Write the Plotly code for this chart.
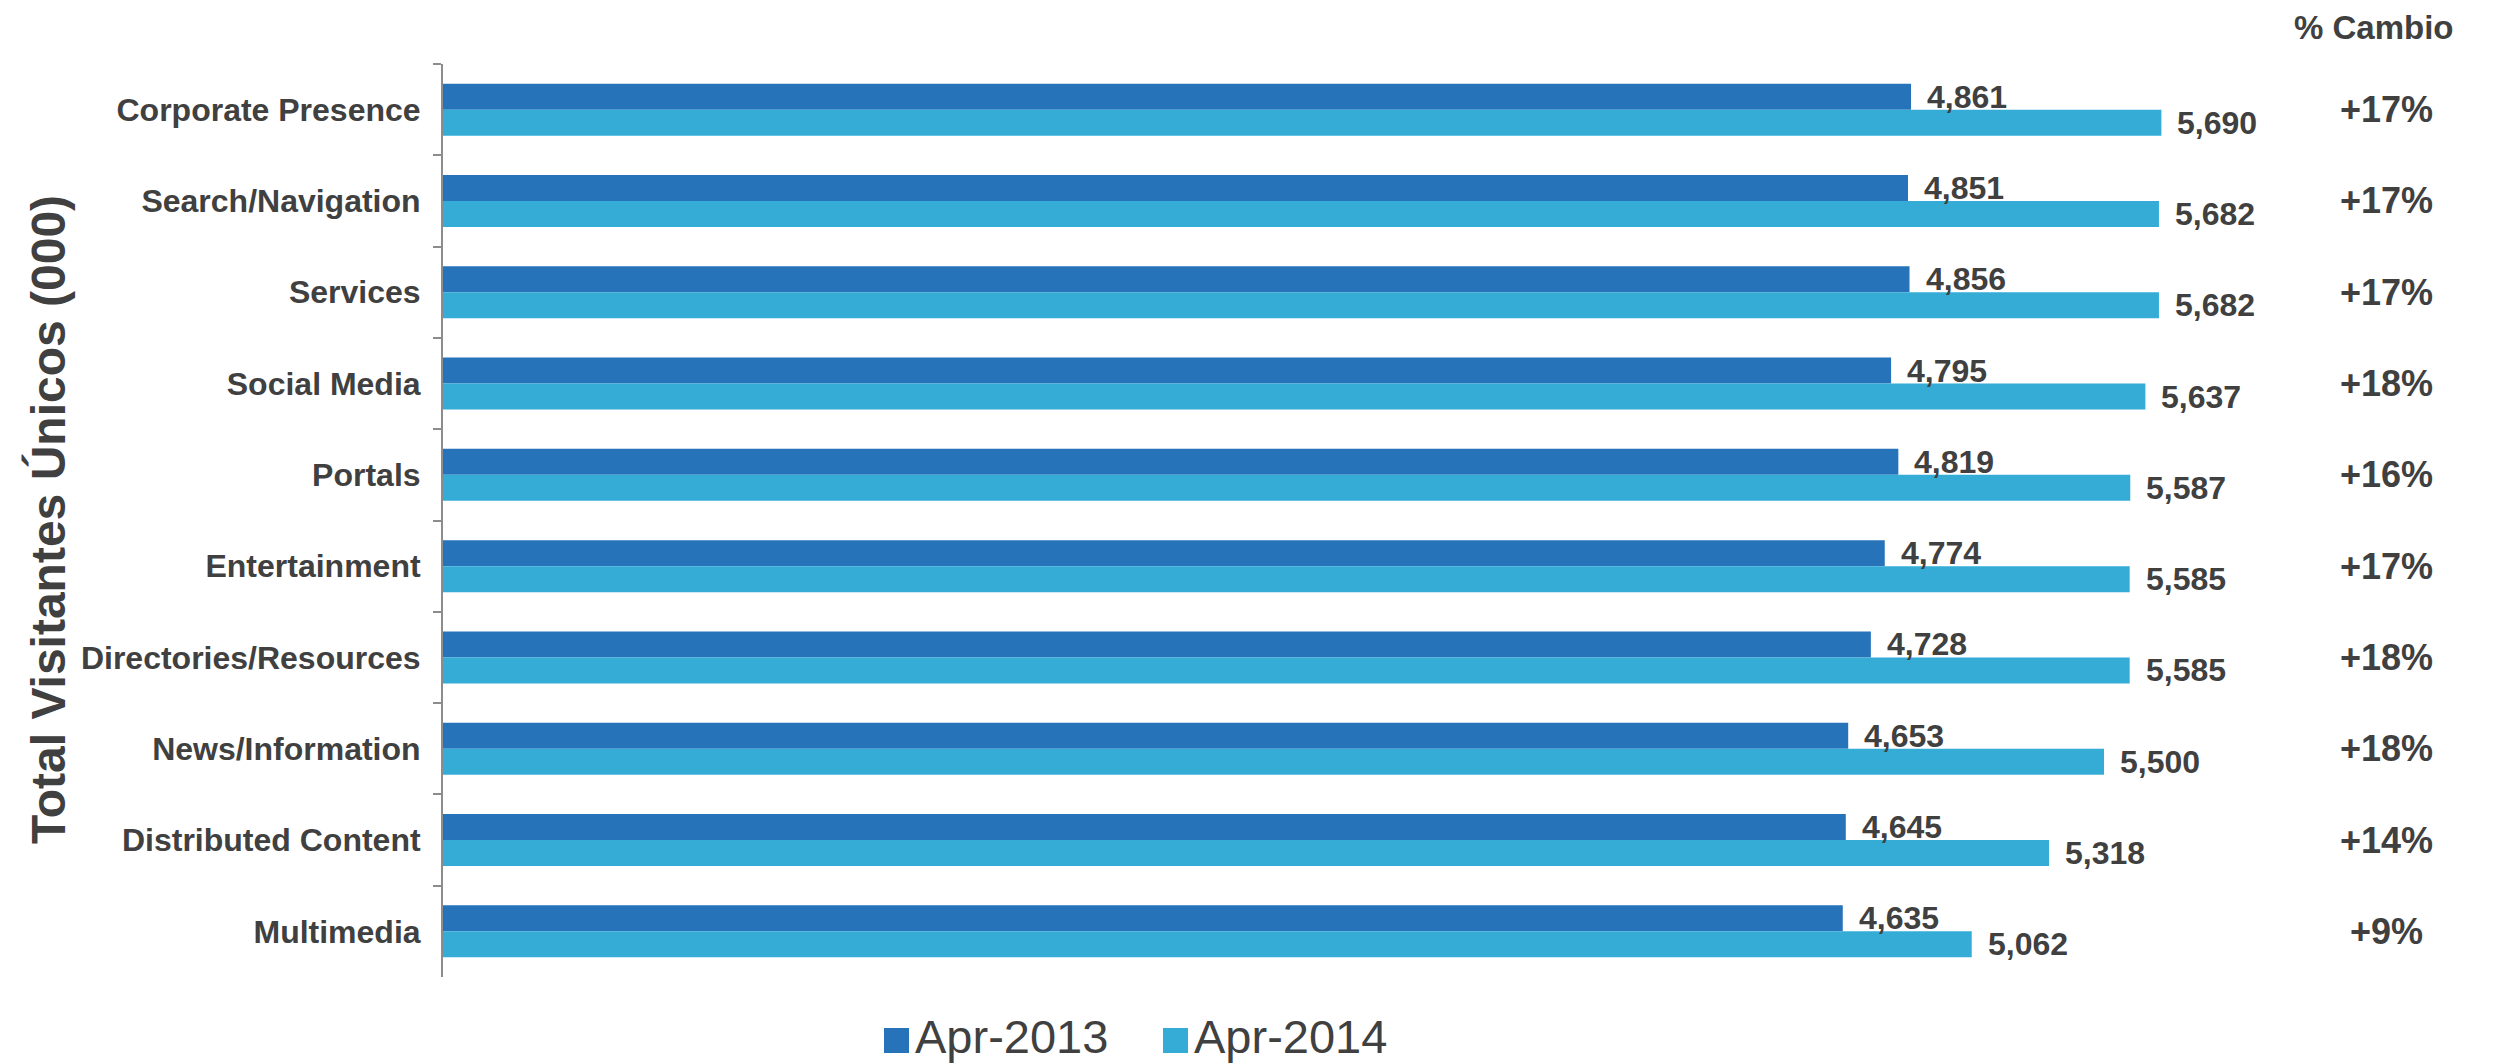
import plotly.graph_objects as go

# Categories listed top to bottom
categories = [
    "Corporate Presence",
    "Search/Navigation",
    "Services",
    "Social Media",
    "Portals",
    "Entertainment",
    "Directories/Resources",
    "News/Information",
    "Distributed Content",
    "Multimedia",
]
apr_2013 = [4861, 4851, 4856, 4795, 4819, 4774, 4728, 4653, 4645, 4635]
apr_2014 = [5690, 5682, 5682, 5637, 5587, 5585, 5585, 5500, 5318, 5062]
pct_change = ["+17%", "+17%", "+17%", "+18%", "+16%", "+17%", "+18%", "+18%", "+14%", "+9%"]
series_names = ["Apr-2013", "Apr-2014"]

DARK = "#2673BA"
LIGHT = "#34ACD6"
TEXT = "#404040"
AXIS = "#8C8C8C"
FONT = "Liberation Sans, Arial, sans-serif"

W, H = 2497, 1064
L, R, T, B = 443, 2255, 64, 977  # plot area in pixels
PW, PH = R - L, B - T


def px(xp):
    return (xp - L) / PW


def py(yp):
    return (B - yp) / PH


fig = go.Figure()
fig.add_trace(go.Bar(y=categories, x=apr_2013, orientation="h", name=series_names[0],
                     marker=dict(color=DARK, line=dict(width=0)), showlegend=False))
fig.add_trace(go.Bar(y=categories, x=apr_2014, orientation="h", name=series_names[1],
                     marker=dict(color=LIGHT, line=dict(width=0)), showlegend=False))

annotations = []
bar_half = 13
for cat, v13, v14, pct in zip(categories, apr_2013, apr_2014, pct_change):
    annotations.append(dict(x=v13, y=cat, xref="x", yref="y", text=f"{v13:,}",
                            xanchor="left", yanchor="middle", xshift=14, yshift=bar_half,
                            showarrow=False,
                            font=dict(family=FONT, size=32, color=TEXT, weight="bold")))
    annotations.append(dict(x=v14, y=cat, xref="x", yref="y", text=f"{v14:,}",
                            xanchor="left", yanchor="middle", xshift=14, yshift=-bar_half,
                            showarrow=False,
                            font=dict(family=FONT, size=32, color=TEXT, weight="bold")))
    annotations.append(dict(x=px(2386), y=cat, xref="paper", yref="y", text=pct,
                            xanchor="center", yanchor="middle", showarrow=False,
                            font=dict(family=FONT, size=36, color=TEXT, weight="bold")))

# Column header
annotations.append(dict(x=px(2374), y=py(27), xref="paper", yref="paper", text="% Cambio",
                        xanchor="center", yanchor="middle", showarrow=False,
                        font=dict(family=FONT, size=33, color=TEXT, weight="bold")))

# Axis title
annotations.append(dict(x=px(48), y=py(520), xref="paper", yref="paper",
                        text="Total Visitantes Únicos (000)", textangle=-90,
                        xanchor="center", yanchor="middle", showarrow=False,
                        font=dict(family=FONT, size=48, color=TEXT, weight="bold")))

# Legend
shapes = []
legend_items = [(884, DARK, series_names[0]), (1163, LIGHT, series_names[1])]
for x0, color, name in legend_items:
    shapes.append(dict(type="rect", xref="paper", yref="paper",
                       x0=px(x0), x1=px(x0 + 25), y0=py(1053), y1=py(1028),
                       fillcolor=color, line=dict(width=0)))
    annotations.append(dict(x=px(x0 + 29), y=py(1036), xref="paper", yref="paper",
                            text=name, xanchor="left", yanchor="middle", showarrow=False,
                            font=dict(family=FONT, size=47, color=TEXT)))

fig.update_layout(
    width=W, height=H,
    margin=dict(l=L, r=W - R, t=T, b=H - B, pad=0),
    paper_bgcolor="white", plot_bgcolor="white",
    barmode="group", bargap=0.43, bargroupgap=0,
    showlegend=False,
    annotations=annotations, shapes=shapes,
    xaxis=dict(range=[0, 6000], visible=False, fixedrange=True),
    yaxis=dict(
        type="category", categoryorder="array", categoryarray=categories,
        autorange="reversed",
        showline=True, linecolor=AXIS, linewidth=2,
        ticks="outside", ticklen=8, tickcolor=AXIS, tickwidth=2,
        tickson="boundaries", ticklabelstandoff=14,
        showgrid=False, zeroline=False,
        tickfont=dict(family=FONT, size=32, color=TEXT, weight="bold"),
    ),
)

fig.write_html("out.html")
